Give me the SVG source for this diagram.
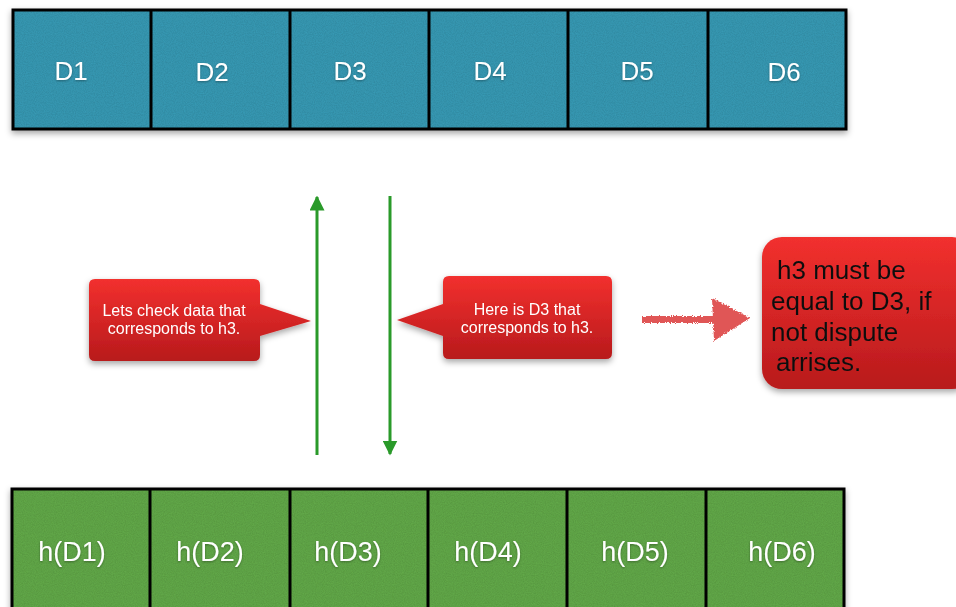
<svg xmlns="http://www.w3.org/2000/svg" width="956" height="607" viewBox="0 0 956 607">
  <defs>
    <style>
      .cell-label { font-family: "Liberation Sans", Arial, sans-serif; font-size: 26px; fill: #ffffff; text-anchor: middle; }
      .hash-label { font-size: 27px; }
      .callout-text { font-family: "Liberation Sans", Arial, sans-serif; font-size: 16px; fill: #ffffff; text-anchor: middle; }
      .note-text { font-family: "Liberation Sans", Arial, sans-serif; font-size: 26px; fill: #111111; }
      .divider { stroke: #000; stroke-width: 3; }
      .flow { stroke: #2a9a2a; stroke-width: 3; fill: none; }
    </style>
    <filter id="grain" x="0" y="0" width="100%" height="100%">
      <feTurbulence type="fractalNoise" baseFrequency="0.9" numOctaves="2" seed="3" result="noise"/>
      <feColorMatrix in="noise" type="matrix" values="0 0 0 0 0  0 0 0 0 0  0 0 0 0 0  0 0 0 0.3 -0.06" result="dots"/>
      <feComposite in="dots" in2="SourceGraphic" operator="in" result="dotsIn"/>
      <feMerge><feMergeNode in="SourceGraphic"/><feMergeNode in="dotsIn"/></feMerge>
    </filter>
    <filter id="shadow" x="-5%" y="-10%" width="110%" height="130%">
      <feDropShadow dx="0" dy="3" stdDeviation="3" flood-color="#000" flood-opacity="0.35"/>
    </filter>
    <filter id="textShadow" x="-10%" y="-20%" width="120%" height="150%">
      <feDropShadow dx="0" dy="1" stdDeviation="1" flood-color="#000" flood-opacity="0.35"/>
    </filter>
    <filter id="chalk" x="-10%" y="-20%" width="120%" height="140%">
      <feTurbulence type="fractalNoise" baseFrequency="0.8" numOctaves="2" seed="7" result="n"/>
      <feDisplacementMap in="SourceGraphic" in2="n" scale="4" xChannelSelector="R" yChannelSelector="G"/>
    </filter>
    <linearGradient id="redGrad" x1="0" y1="0" x2="0" y2="1">
      <stop offset="0" stop-color="#f2302e"/>
      <stop offset="1" stop-color="#b81a1c"/>
    </linearGradient>
    <marker id="arrowGreen" viewBox="0 0 10 10" refX="9" refY="5" markerWidth="5" markerHeight="5" orient="auto">
      <path d="M0,0 L10,5 L0,10 z" fill="#2a9a2a"/>
    </marker>
  </defs>

  <!-- data blocks D1..D6 -->
  <g id="data-row" filter="url(#shadow)">
    <rect x="13" y="10" width="833" height="119" fill="#3799b3" filter="url(#grain)"/>
    <rect x="13" y="10" width="833" height="119" fill="none" stroke="#000" stroke-width="3"/>
    <line class="divider" x1="151" y1="10" x2="151" y2="129"/>
    <line class="divider" x1="290" y1="10" x2="290" y2="129"/>
    <line class="divider" x1="429" y1="10" x2="429" y2="129"/>
    <line class="divider" x1="568" y1="10" x2="568" y2="129"/>
    <line class="divider" x1="708" y1="10" x2="708" y2="129"/>
  </g>
  <g filter="url(#textShadow)">
    <g id="d1"><text class="cell-label" x="71" y="80">D1</text></g>
    <g id="d2"><text class="cell-label" x="212" y="81">D2</text></g>
    <g id="d3"><text class="cell-label" x="350" y="80">D3</text></g>
    <g id="d4"><text class="cell-label" x="490" y="80">D4</text></g>
    <g id="d5"><text class="cell-label" x="637" y="80">D5</text></g>
    <g id="d6"><text class="cell-label" x="784" y="81">D6</text></g>
  </g>

  <!-- hash blocks h(D1)..h(D6) -->
  <g id="hash-row" filter="url(#shadow)">
    <rect x="12" y="489" width="832" height="125" fill="#62a849" filter="url(#grain)"/>
    <rect x="12" y="489" width="832" height="125" fill="none" stroke="#000" stroke-width="3"/>
    <line class="divider" x1="150" y1="489" x2="150" y2="607"/>
    <line class="divider" x1="290" y1="489" x2="290" y2="607"/>
    <line class="divider" x1="428" y1="489" x2="428" y2="607"/>
    <line class="divider" x1="567" y1="489" x2="567" y2="607"/>
    <line class="divider" x1="706" y1="489" x2="706" y2="607"/>
  </g>
  <g filter="url(#textShadow)">
    <g id="hd1"><text class="cell-label hash-label" x="72" y="561">h(D1)</text></g>
    <g id="hd2"><text class="cell-label hash-label" x="210" y="561">h(D2)</text></g>
    <g id="hd3"><text class="cell-label hash-label" x="348" y="561">h(D3)</text></g>
    <g id="hd4"><text class="cell-label hash-label" x="488" y="561">h(D4)</text></g>
    <g id="hd5"><text class="cell-label hash-label" x="635" y="561">h(D5)</text></g>
    <g id="hd6"><text class="cell-label hash-label" x="782" y="561">h(D6)</text></g>
  </g>

  <!-- connectors -->
  <g id="connectors">
    <line class="flow" x1="317" y1="455" x2="317" y2="197" marker-end="url(#arrowGreen)"/>
    <line class="flow" x1="390" y1="196" x2="390" y2="454" marker-end="url(#arrowGreen)"/>
    <g id="chalk-arrow" filter="url(#chalk)" fill="#e05656">
      <rect x="642" y="316" width="74" height="7"/>
      <path d="M712,298 L750,318 L714,341 Z"/>
    </g>
  </g>

  <!-- callout: request -->
  <g id="callout-request" filter="url(#shadow)">
    <path d="M95,279 H254 Q260,279 260,285 V304 L311,321 L260,336 V355 Q260,361 254,361 H95 Q89,361 89,355 V285 Q89,279 95,279 Z" fill="url(#redGrad)"/>
    <text class="callout-text" x="174" y="316">Lets check data that</text>
    <text class="callout-text" x="174" y="334">corresponds to h3.</text>
  </g>

  <!-- callout: response -->
  <g id="callout-response" filter="url(#shadow)">
    <path d="M449,276 H606 Q612,276 612,282 V353 Q612,359 606,359 H449 Q443,359 443,353 V336 L397,320 L443,304 V282 Q443,276 449,276 Z" fill="url(#redGrad)"/>
    <text class="callout-text" x="527" y="315">Here is D3 that</text>
    <text class="callout-text" x="527" y="333">corresponds to h3.</text>
  </g>

  <!-- conclusion note -->
  <g id="note" filter="url(#shadow)">
    <rect x="762" y="237" width="210" height="152" rx="20" fill="url(#redGrad)"/>
    <text class="note-text" x="777" y="279">h3 must be</text>
    <text class="note-text" x="771" y="310">equal to D3, if</text>
    <text class="note-text" x="771" y="341">not dispute</text>
    <text class="note-text" x="776" y="371">arrises.</text>
  </g>
</svg>
